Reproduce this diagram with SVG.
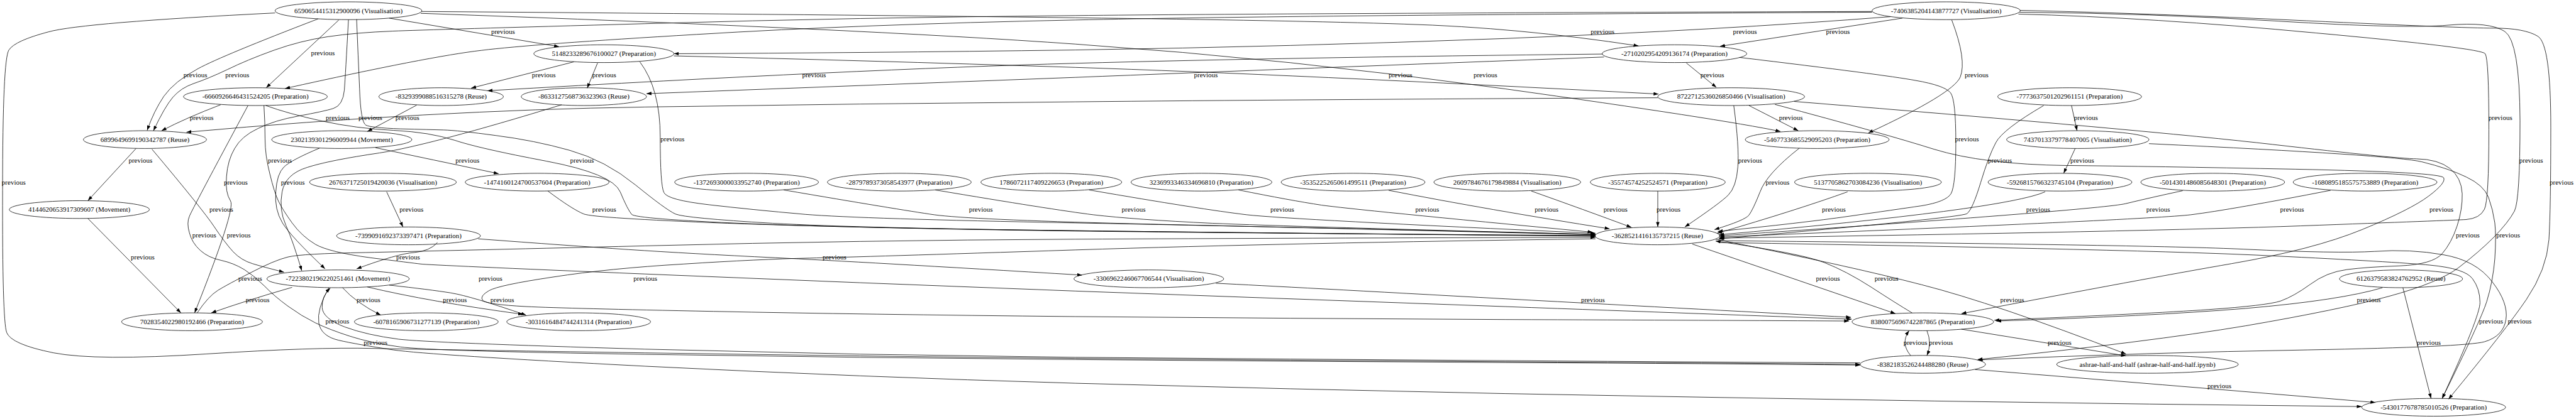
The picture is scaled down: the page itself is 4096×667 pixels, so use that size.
<svg xmlns="http://www.w3.org/2000/svg" width="4096" height="667" viewBox="0 0 4096 667">
<style>
.n ellipse{fill:none;stroke:#000;stroke-width:1.33}
text{font-family:"Liberation Serif","Times New Roman",serif;font-size:18.67px;text-anchor:middle;fill:#000}
.e path{fill:none;stroke:#000;stroke-width:1.33;marker-end:url(#a)}
</style>
<defs>
<marker id="a" viewBox="0 0 10 7" refX="10" refY="3.5" markerWidth="13.3" markerHeight="9.3" markerUnits="userSpaceOnUse" orient="auto"><path d="M0,0L10,3.5L0,7z" fill="#000"/></marker>
</defs>
<rect width="4096" height="667" fill="#fff"/>
<g transform="scale(0.58944)">
<g class="e" id="connectors">
<path d="M1050,49 L1508,126"/>
<path d="M914,54 L718,237"/>
<path d="M858,51 Q600,150 535,185 Q470,220 442,260 Q415,300 397,352"/>
<path d="M5050,31 Q3480,36 2900,42 Q2320,47 1740,64 Q1160,80 1060,84 Q960,88 885,99 Q810,110 738,136 Q666,162 613,188 Q560,213 524,225 Q488,237 466,263 Q444,289 414,353"/>
<path d="M5050,33 Q3480,41 2900,54 Q2320,66 1879,93 Q1437,119 1299,136 Q1160,152 769,239"/>
<path d="M595,283 Q503,318 436,353"/>
<path d="M4472,264 Q3480,269 2900,275 Q2320,280 1740,289 Q1160,298 503,357"/>
<path d="M1124,284 L991,355"/>
<path d="M367,401 L237,542"/>
<path d="M237,590 L488,845"/>
<path d="M1137,31 Q2320,40 2900,48 Q3480,55 3787,65 Q4094,74 4420,124"/>
<path d="M5100,45 Q4640,81 4060,104 Q3480,126 2900,135 Q2320,143 1818,145"/>
<path d="M5132,49 L4640,125"/>
<path d="M1135,36 Q2320,78 2900,119 Q3480,159 4060,240 Q4640,321 4803,355"/>
<path d="M4323,146 Q3480,155 2900,171 Q2320,187 1315,245"/>
<path d="M4327,154 Q3480,186 2900,209 Q2320,231 1744,253"/>
<path d="M1548,167 L1271,238"/>
<path d="M1612,170 L1584,238"/>
<path d="M1818,151 Q2320,163 2900,182 Q3480,201 4474,254"/>
<path d="M4549,170 L4630,236"/>
<path d="M1726,167 Q1781,240 1781,370 Q1781,500 1791,520 Q1800,540 1913,553 Q2025,566 2173,579 Q2320,591 2900,602 Q3480,613 4304,633"/>
<path d="M742,35 Q222,61 131,86 Q40,110 24,135 Q7,160 7,513 Q6,865 18,898 Q30,930 145,953 Q259,975 555,956 Q851,937 1006,941 Q1160,944 1740,953 Q2320,962 2900,968 Q3480,973 4060,977 Q4640,980 5018,984"/>
<path d="M962,52 Q966,150 970,240 Q973,330 987,338 Q1000,345 1080,348 Q1160,350 1197,351 Q1234,352 1338,366 Q1441,379 1537,406 Q1633,433 1715,500 Q1796,566 1822,578 Q1848,589 2084,603 Q2320,616 2900,623 Q3480,630 4304,637"/>
<path d="M5588,285 L5603,353"/>
<path d="M5598,401 L5567,468"/>
<path d="M4718,285 L4851,353"/>
<path d="M5265,54 Q5306,162 5288,208 Q5269,253 5040,359"/>
<path d="M1043,518 L1087,613"/>
<path d="M5198,893 Q5212,927 5198,960"/>
<path d="M5154,960 Q5126,927 5150,893"/>
<path d="M5291,889 L5735,961"/>
<path d="M4565,659 L5113,847"/>
<path d="M6482,777 L6558,1076"/>
<path d="M5328,998 Q5800,1036 6408,1087"/>
<path d="M1478,516 Q1545,566 1575,578 Q1604,589 1962,603 Q2320,616 2900,623 Q3480,630 4304,638"/>
<path d="M717,285 Q777,307 869,327 Q961,347 1061,352 Q1160,357 1227,379 Q1293,401 1473,435 Q1652,469 1673,518 Q1693,566 1704,579 Q1715,591 2018,604 Q2320,616 2900,624 Q3480,631 4304,636"/>
<path d="M2114,513 Q2424,566 2520,580 Q2616,593 3048,604 Q3480,614 4304,634"/>
<path d="M2523,513 Q2838,566 2949,580 Q3060,593 3270,603 Q3480,612 4304,633"/>
<path d="M2938,513 Q3245,566 3363,580 Q3480,593 4304,630"/>
<path d="M3341,513 Q3480,541 3565,554 Q3650,566 4296,627"/>
<path d="M3746,514 Q4013,566 4342,618"/>
<path d="M4131,516 Q4272,566 4401,614"/>
<path d="M4472,516 L4472,613"/>
<path d="M4677,285 Q4692,397 4688,451 Q4684,505 4662,527 Q4640,549 4545,613"/>
<path d="M4854,400 Q4766,469 4748,518 Q4729,566 4718,581 Q4707,595 4625,620"/>
<path d="M4984,518 Q4851,566 4632,630"/>
<path d="M5517,518 Q5409,566 4637,634"/>
<path d="M5888,515 Q5800,534 5734,550 Q5668,566 4638,637"/>
<path d="M6287,514 Q6020,566 5910,580 Q5800,593 4638,640"/>
<path d="M5513,285 Q5402,350 5384,385 Q5365,420 5343,493 Q5321,566 5306,577 Q5291,588 4636,645"/>
<path d="M4692,155 Q5084,202 5166,217 Q5247,231 5262,251 Q5276,270 5276,385 Q5276,500 5263,523 Q5250,545 5182,556 Q5113,566 4988,584 Q4862,602 4634,625"/>
<path d="M1013,399 Q1160,430 1345,469"/>
<path d="M862,400 Q784,433 766,451 Q747,469 744,518 Q740,566 762,602 Q784,638 877,726"/>
<path d="M1515,283 Q1160,392 1024,413 Q888,433 829,452 Q770,470 761,518 Q752,566 771,608 Q790,650 814,731"/>
<path d="M410,403 Q547,566 577,611 Q607,656 629,680 Q651,703 681,712 Q710,721 766,735"/>
<path d="M1180,655 Q1160,678 1117,682 Q1073,685 962,726"/>
<path d="M940,53 Q932,200 929,243 Q925,285 899,293 Q873,301 807,313 Q740,325 696,347 Q651,368 633,401 Q614,433 611,477 Q607,520 622,543 Q636,566 525,845"/>
<path d="M669,285 Q518,566 511,584 Q503,602 511,629 Q518,656 540,676 Q562,696 596,703 Q629,710 659,728 Q688,746 714,773 Q740,800 777,827 Q814,854 851,872 Q888,890 944,908 Q999,926 1080,937 Q1160,948 1740,957 Q2320,966 2900,971 Q3480,976 4060,979 Q4640,982 5018,986"/>
<path d="M788,776 Q666,811 570,845"/>
<path d="M924,777 Q961,818 1027,851"/>
<path d="M532,845 Q562,800 588,784 Q614,768 677,736 Q740,703 777,694 Q814,685 987,682 Q1160,678 1740,664 Q2320,649 2900,646 Q3480,643 4304,641"/>
<path d="M5018,980 Q4640,978 4060,974 Q3480,970 2900,965 Q2320,959 1740,943 Q1160,926 1075,916 Q990,905 930,883 Q870,860 869,830 Q868,800 891,778"/>
<path d="M887,777 Q854,836 860,872 Q866,908 914,919 Q962,930 1061,945 Q1160,959 1740,989 Q2320,1018 2900,1035 Q3480,1051 4060,1063 Q4640,1074 5220,1083 Q5800,1092 6371,1098"/>
<path d="M1050,770 Q1160,782 1216,791 Q1271,800 1419,851"/>
<path d="M991,775 Q1160,815 1411,849"/>
<path d="M4304,645 Q3480,656 2900,675 Q2320,694 2184,697 Q2048,700 1845,713 Q1641,725 1493,748 Q1345,770 1319,785 Q1293,800 1302,811 Q1310,822 1420,828 Q1530,833 1925,841 Q2320,849 2900,855 Q3480,860 4060,863 Q4640,865 4988,867"/>
<path d="M1290,645 Q1530,663 1696,674 Q1862,685 2091,696 Q2320,707 2919,743"/>
<path d="M712,285 Q715,330 715,375 Q715,420 728,470 Q740,520 751,543 Q762,566 788,602 Q814,638 851,660 Q888,681 999,696 Q1110,710 1135,713 Q1160,716 1740,740 Q2320,764 2900,786 Q3480,807 4060,828 Q4640,849 4995,862"/>
<path d="M3280,765 Q3480,775 4060,807 Q4640,838 4993,857"/>
<path d="M4628,646 Q4988,718 5184,769 Q5380,819 5735,956"/>
<path d="M5158,845 Q5113,818 5047,775 Q4980,732 4921,709 Q4862,685 4628,651"/>
<path d="M4788,282 Q5084,361 5217,403 Q5350,444 5575,447 Q5800,449 6192,457 Q6584,465 6592,480 Q6599,494 6551,530 Q6503,566 6372,620 Q6240,674 6020,712 Q5800,750 5291,847"/>
<path d="M4840,274 Q5800,352 6130,390 Q6460,428 6519,429 Q6577,430 6609,455 Q6640,480 6642,523 Q6643,566 6628,611 Q6613,656 6588,685 Q6562,714 6474,718 Q6386,721 6331,728 Q6276,735 6232,768 Q6188,800 6152,813 Q6115,825 5958,836 Q5800,847 5380,865"/>
<path d="M5797,388 Q6460,419 6533,437 Q6606,455 6653,478 Q6700,500 6713,533 Q6725,566 6730,602 Q6734,638 6730,699 Q6725,760 6708,815 Q6690,870 6588,1076"/>
<path d="M6427,777 Q6313,811 6057,833 Q5800,854 5385,867"/>
<path d="M5445,38 Q5800,47 6247,89 Q6694,130 6704,145 Q6714,160 6714,350 Q6714,540 6702,565 Q6690,590 6652,593 Q6613,595 6207,610 Q5800,625 4638,643"/>
<path d="M5448,33 Q5800,36 6145,57 Q6489,78 6603,68 Q6716,58 6757,85 Q6797,112 6798,326 Q6798,540 6783,570 Q6767,600 6727,641 Q6687,681 6632,723 Q6577,764 6445,800 Q6313,836 6057,880 Q5800,923 5335,971"/>
<path d="M5449,28 Q5800,36 6222,56 Q6643,76 6727,76 Q6811,76 6846,98 Q6881,119 6881,343 Q6881,566 6876,647 Q6870,728 6815,809 Q6760,890 6605,1078"/>
<path d="M4636,650 Q5800,661 6053,673 Q6306,685 6405,679 Q6503,672 6591,688 Q6679,703 6723,761 Q6767,818 6760,863 Q6753,908 6702,923 Q6650,937 6225,945 Q5800,952 5335,972"/>
<path d="M4638,655 Q5800,674 6130,691 Q6460,707 6555,716 Q6650,725 6670,753 Q6690,780 6690,817 Q6690,854 6588,1076"/>
</g>
<g id="edge-labels">
<text x="1357" y="92">previous</text><text x="871" y="150">previous</text><text x="527" y="208">previous</text><text x="640" y="208">previous</text>
<text x="544" y="324">previous</text><text x="911" y="324">previous</text><text x="1099" y="324">previous</text><text x="999" y="324">previous</text>
<text x="379" y="440">previous</text><text x="385" y="700">previous</text><text x="4323" y="92">previous</text><text x="4707" y="92">previous</text>
<text x="4958" y="92">previous</text><text x="4007" y="208">previous</text><text x="2196" y="208">previous</text><text x="3253" y="208">previous</text>
<text x="1467" y="208">previous</text><text x="1630" y="208">previous</text><text x="3778" y="208">previous</text><text x="4619" y="208">previous</text>
<text x="1814" y="381">previous</text><text x="37" y="498">previous</text><text x="5627" y="324">previous</text><text x="5617" y="440">previous</text>
<text x="4831" y="324">previous</text><text x="5332" y="208">previous</text><text x="1110" y="571">previous</text><text x="5167" y="932">previous</text>
<text x="5236" y="932">previous</text><text x="5556" y="932">previous</text><text x="4931" y="758">previous</text><text x="6552" y="931">previous</text>
<text x="5987" y="1048">previous</text><text x="1630" y="571">previous</text><text x="1570" y="440">previous</text><text x="2646" y="571">previous</text>
<text x="3058" y="571">previous</text><text x="3459" y="571">previous</text><text x="3850" y="571">previous</text><text x="4172" y="571">previous</text>
<text x="4358" y="571">previous</text><text x="4501" y="571">previous</text><text x="4721" y="440">previous</text><text x="4795" y="498">previous</text>
<text x="4947" y="571">previous</text><text x="5498" y="571">previous</text><text x="5822" y="571">previous</text><text x="6183" y="571">previous</text>
<text x="5395" y="440">previous</text><text x="5306" y="381">previous</text><text x="1261" y="440">previous</text><text x="755" y="440">previous</text>
<text x="790" y="498">previous</text><text x="636" y="498">previous</text><text x="597" y="571">previous</text><text x="551" y="642">previous</text>
<text x="644" y="642">previous</text><text x="1101" y="700">previous</text><text x="675" y="758">previous</text><text x="695" y="816">previous</text>
<text x="994" y="816">previous</text><text x="910" y="874">previous</text><text x="1013" y="931">previous</text><text x="1227" y="816">previous</text>
<text x="1355" y="816">previous</text><text x="1323" y="758">previous</text><text x="1741" y="758">previous</text><text x="2251" y="700">previous</text>
<text x="4297" y="816">previous</text><text x="5428" y="816">previous</text><text x="5089" y="758">previous</text><text x="6586" y="571">previous</text>
<text x="6657" y="642">previous</text><text x="6390" y="816">previous</text><text x="6745" y="324">previous</text><text x="6828" y="440">previous</text>
<text x="6910" y="498">previous</text><text x="6797" y="874">previous</text><text x="6720" y="874">previous</text><text x="6766" y="642">previous</text>
</g>
<g class="n" id="n1"><ellipse cx="940" cy="29" rx="198" ry="24"/><text x="940" y="35">6590654415312900096 (Visualisation)</text></g>
<g class="n" id="n2"><ellipse cx="5250" cy="29" rx="200" ry="24"/><text x="5250" y="35">-7406385204143877727 (Visualisation)</text></g>
<g class="n" id="n3"><ellipse cx="1629" cy="145" rx="189" ry="24"/><text x="1629" y="151">5148233289676100027 (Preparation)</text></g>
<g class="n" id="n4"><ellipse cx="4517" cy="145" rx="195" ry="24"/><text x="4517" y="151">-2710202954209136174 (Preparation)</text></g>
<g class="n" id="n5"><ellipse cx="689" cy="261" rx="194" ry="24"/><text x="689" y="267">-6660926646431524205 (Preparation)</text></g>
<g class="n" id="n6"><ellipse cx="1190" cy="261" rx="168" ry="24"/><text x="1190" y="267">-8329399088516315278 (Reuse)</text></g>
<g class="n" id="n7"><ellipse cx="1575" cy="261" rx="169" ry="24"/><text x="1575" y="267">-8633127568736323963 (Reuse)</text></g>
<g class="n" id="n8"><ellipse cx="4670" cy="261" rx="198" ry="24"/><text x="4670" y="267">8722712536026850466 (Visualisation)</text></g>
<g class="n" id="n9"><ellipse cx="5583" cy="261" rx="194" ry="24"/><text x="5583" y="267">-7773637501202961151 (Preparation)</text></g>
<g class="n" id="n10"><ellipse cx="391" cy="377" rx="166" ry="24"/><text x="391" y="383">6899649699190342787 (Reuse)</text></g>
<g class="n" id="n11"><ellipse cx="922" cy="377" rx="189" ry="24"/><text x="922" y="383">2302139301296009944 (Movement)</text></g>
<g class="n" id="n12"><ellipse cx="4902" cy="377" rx="194" ry="24"/><text x="4902" y="383">-5467733685529095203 (Preparation)</text></g>
<g class="n" id="n13"><ellipse cx="5605" cy="377" rx="192" ry="24"/><text x="5605" y="383">7437013379778407005 (Visualisation)</text></g>
<g class="n" id="n14"><ellipse cx="1033" cy="492" rx="198" ry="24"/><text x="1033" y="498">2676371725019420036 (Visualisation)</text></g>
<g class="n" id="n15"><ellipse cx="1449" cy="492" rx="194" ry="24"/><text x="1449" y="498">-1474160124700537604 (Preparation)</text></g>
<g class="n" id="n16"><ellipse cx="2014" cy="492" rx="194" ry="24"/><text x="2014" y="498">-1372693000033952740 (Preparation)</text></g>
<g class="n" id="n17"><ellipse cx="2426" cy="492" rx="194" ry="24"/><text x="2426" y="498">-2879789373058543977 (Preparation)</text></g>
<g class="n" id="n18"><ellipse cx="2836" cy="492" rx="190" ry="24"/><text x="2836" y="498">1786072117409226653 (Preparation)</text></g>
<g class="n" id="n19"><ellipse cx="3241" cy="492" rx="190" ry="24"/><text x="3241" y="498">3236993346334696810 (Preparation)</text></g>
<g class="n" id="n20"><ellipse cx="3650" cy="492" rx="194" ry="24"/><text x="3650" y="498">-3535225265061499511 (Preparation)</text></g>
<g class="n" id="n21"><ellipse cx="4066" cy="492" rx="198" ry="24"/><text x="4066" y="498">2609784676179849884 (Visualisation)</text></g>
<g class="n" id="n22"><ellipse cx="4472" cy="492" rx="182" ry="24"/><text x="4472" y="498">-35574574252524571 (Preparation)</text></g>
<g class="n" id="n23"><ellipse cx="5039" cy="492" rx="198" ry="24"/><text x="5039" y="498">5137705862703084236 (Visualisation)</text></g>
<g class="n" id="n24"><ellipse cx="5557" cy="492" rx="194" ry="24"/><text x="5557" y="498">-5926815766323745104 (Preparation)</text></g>
<g class="n" id="n25"><ellipse cx="5969" cy="492" rx="194" ry="24"/><text x="5969" y="498">-5014301486085648301 (Preparation)</text></g>
<g class="n" id="n26"><ellipse cx="6380" cy="492" rx="194" ry="24"/><text x="6380" y="498">-1680895185575753889 (Preparation)</text></g>
<g class="n" id="n27"><ellipse cx="214" cy="566" rx="189" ry="24"/><text x="214" y="572">4144620653917309607 (Movement)</text></g>
<g class="n" id="n28"><ellipse cx="1102" cy="637" rx="194" ry="24"/><text x="1102" y="643">-7399091692373397471 (Preparation)</text></g>
<g class="n" id="n29"><ellipse cx="4471" cy="637" rx="168" ry="24"/><text x="4471" y="643">-3628521416135737215 (Reuse)</text></g>
<g class="n" id="n30"><ellipse cx="912" cy="753" rx="192" ry="24"/><text x="912" y="759">-7223802196220251461 (Movement)</text></g>
<g class="n" id="n31"><ellipse cx="3099" cy="753" rx="202" ry="24"/><text x="3099" y="759">-3306962246067706544 (Visualisation)</text></g>
<g class="n" id="n32"><ellipse cx="6477" cy="753" rx="166" ry="24"/><text x="6477" y="759">6126379583824762952 (Reuse)</text></g>
<g class="n" id="n33"><ellipse cx="518" cy="869" rx="190" ry="24"/><text x="518" y="875">7028354022980192466 (Preparation)</text></g>
<g class="n" id="n34"><ellipse cx="1150" cy="869" rx="194" ry="24"/><text x="1150" y="875">-6078165906731277139 (Preparation)</text></g>
<g class="n" id="n35"><ellipse cx="1561" cy="869" rx="194" ry="24"/><text x="1561" y="875">-3031616484744241314 (Preparation)</text></g>
<g class="n" id="n36"><ellipse cx="5187" cy="869" rx="191" ry="24"/><text x="5187" y="875">8380075696742287865 (Preparation)</text></g>
<g class="n" id="n37"><ellipse cx="5187" cy="984" rx="169" ry="24"/><text x="5187" y="990">-8382183526244488280 (Reuse)</text></g>
<g class="n" id="n38"><ellipse cx="5793" cy="984" rx="245" ry="24"/><text x="5793" y="990">ashrae-half-and-half (ashrae-half-and-half.ipynb)</text></g>
<g class="n" id="n39"><ellipse cx="6565" cy="1100" rx="194" ry="24"/><text x="6565" y="1106">-5430177678785010526 (Preparation)</text></g>
</g>
</svg>
